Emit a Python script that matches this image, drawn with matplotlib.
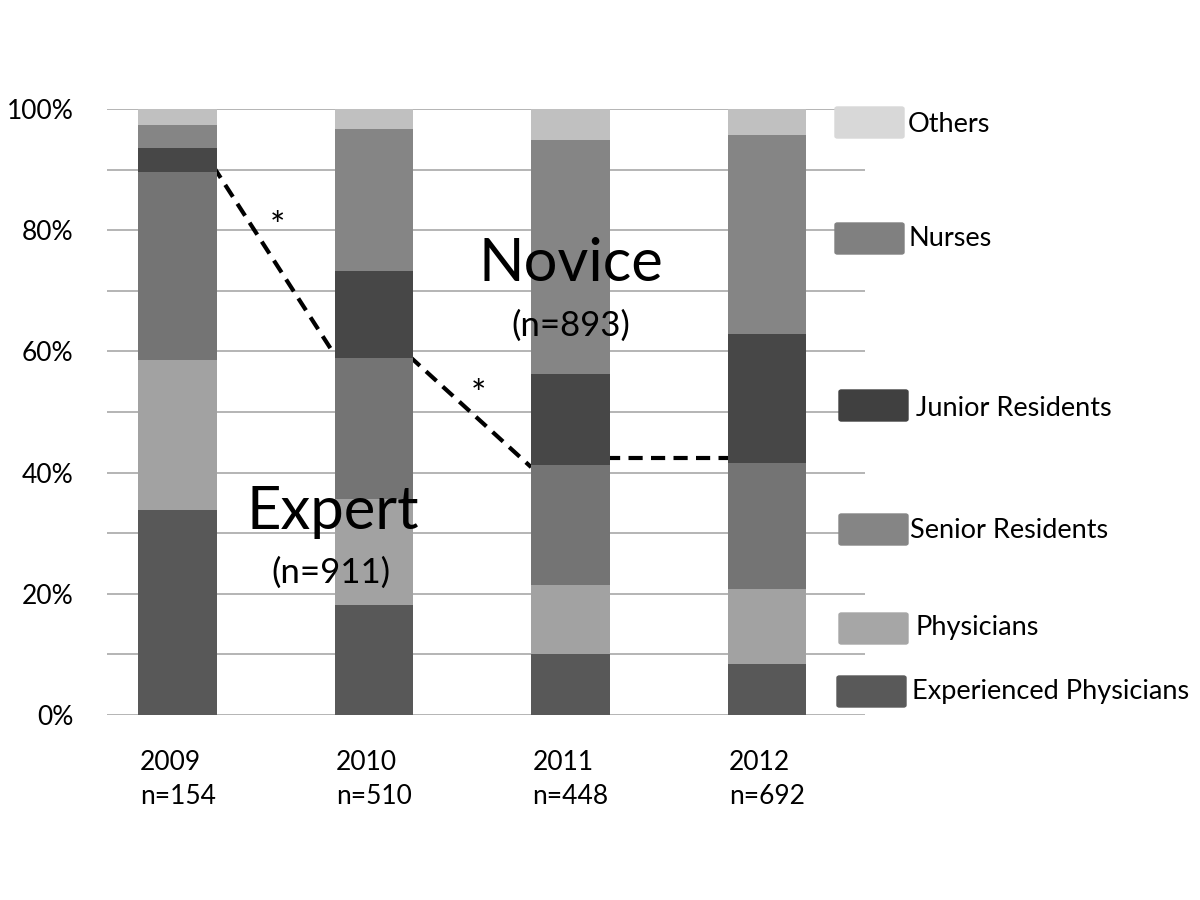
import matplotlib.pyplot as plt
from matplotlib.patches import FancyBboxPatch

plt.rcParams['font.family'] = ['Lato', 'DejaVu Sans']

# data (% of respondents per year)
years = ["2009", "2010", "2011", "2012"]
year_n = ["n=154", "n=510", "n=448", "n=692"]
groups = ["Experienced Physicians", "Physicians", "Senior Residents",
          "Junior Residents", "Nurses", "Others"]
experienced = [33.8, 18.2, 10.1, 8.4]
physicians = [24.8, 17.4, 11.4, 12.4]
senior = [31.0, 23.3, 19.8, 20.8]
junior = [4.0, 14.4, 15.0, 21.3]
nurses = [3.8, 23.4, 38.6, 32.8]
others = [2.6, 3.3, 5.1, 4.3]
series = [experienced, physicians, senior, junior, nurses, others]

# dashed trend of the expert share, (start, end) of each gap segment
trend_segments = [(90.6, 59.4), (59.2, 40.9), (42.4, 42.4)]

bar_colors = ["#585858", "#a2a2a2", "#747474", "#474747", "#858585", "#c0c0c0"]
legend_colors = ["#595959", "#a6a6a6", "#858585", "#404040", "#808080", "#d8d8d8"]

W, H = 1200, 900
fig = plt.figure(figsize=(12, 9), dpi=100)
ax = fig.add_axes([107 / W, 1 - 715 / H, (865 - 107) / W, (715 - 109) / H])

x = list(range(len(years)))
width = 0.4
bottom = [0.0] * len(years)
for vals, col in zip(series, bar_colors):
    ax.bar(x, vals, width, bottom=bottom, color=col, zorder=3)
    bottom = [b + v for b, v in zip(bottom, vals)]

# dashed connectors between bars
for i, (y0, y1) in enumerate(trend_segments):
    ax.plot([i + width / 2 - 0.02, i + 1 - width / 2], [y0, y1],
            color="black", lw=3, ls=(0, (3.4, 2.0)), zorder=2)

ax.set_xlim(-0.36, 3.5)
ax.set_ylim(0, 100)
ax.set_yticks(range(0, 101, 20))
ax.set_yticks(range(0, 101, 10), minor=True)
ax.set_yticklabels([f"{v}%" for v in range(0, 101, 20)], fontsize=19)
ax.grid(axis="y", which="both", color="#a8a8a8", lw=1.2, zorder=0)
ax.set_xticks(x)
ax.set_xticklabels([f"{y}\n{n}" for y, n in zip(years, year_n)], fontsize=19,
                   linespacing=1.45)
for t in ax.get_xticklabels():
    t.set_multialignment("left")
ax.tick_params(axis="y", which="both", length=0, pad=24)
ax.tick_params(axis="x", length=0, pad=25)
for s in ax.spines.values():
    s.set_visible(False)

# group labels and significance marks
ax.text(1 - 0.21, 33.5, "Expert", fontsize=43, ha="center", va="center", zorder=4)
ax.text(1 - 0.22, 23.5, "(n=911)", fontsize=25, ha="center", va="center", zorder=4)
ax.text(2, 74.5, "Novice", fontsize=43, ha="center", va="center", zorder=4)
ax.text(2, 64.2, "(n=893)", fontsize=25, ha="center", va="center", zorder=4)
ax.text(0.51, 80.5, "*", fontsize=26, ha="center", va="center")
ax.text(1.53, 52.8, "*", fontsize=26, ha="center", va="center")

# hand-placed legend boxes (pixel positions from the reference)
legend_boxes = [(837, 676), (839, 613), (839, 514), (839, 390), (835, 223), (835, 107)]
legend_text = [(912, 692), (916, 627), (910, 531), (916, 408), (909, 238), (908, 124)]
for name, col, (bx, by), (tx, ty) in zip(groups, legend_colors, legend_boxes, legend_text):
    fig.patches.append(FancyBboxPatch((bx / W, 1 - (by + 31) / H), 69 / W, 31 / H,
                                      boxstyle="round,pad=0,rounding_size=0.002",
                                      transform=fig.transFigure, color=col))
    fig.text(tx / W, 1 - ty / H, name, fontsize=19.5, ha="left", va="center")

fig.savefig("out.png", dpi=100, facecolor="white")
